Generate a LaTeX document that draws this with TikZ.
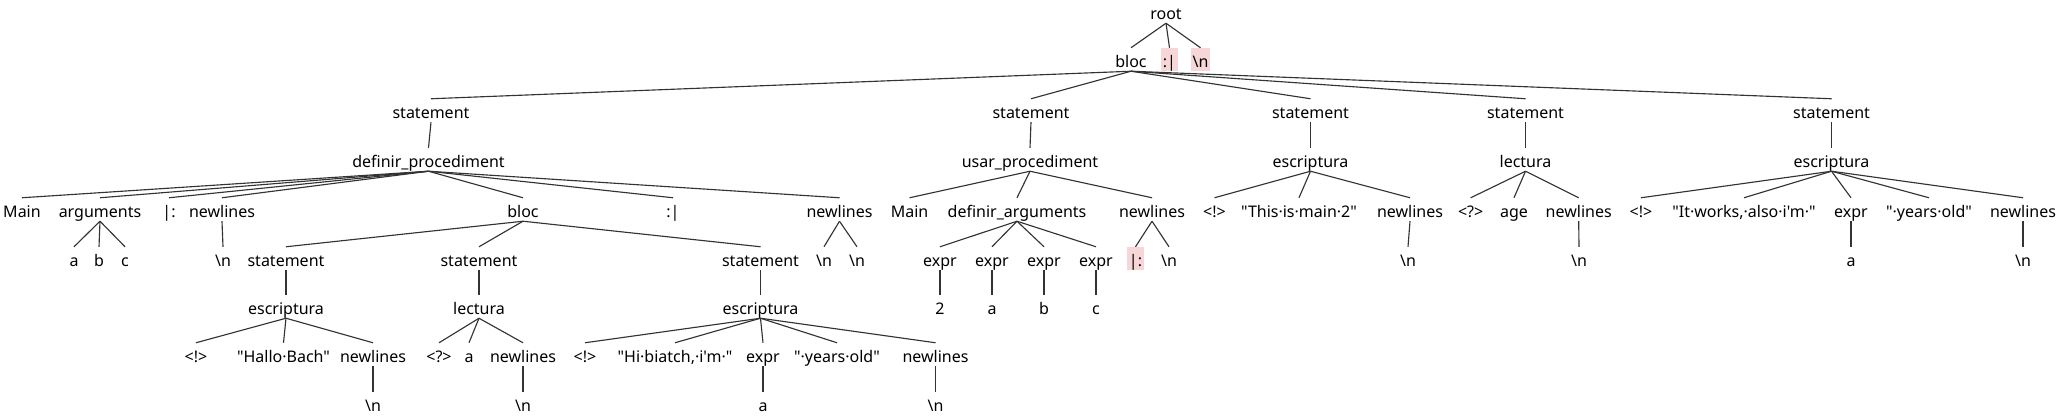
\documentclass[tikz,border=0pt]{standalone}
\usepackage{fontspec}
\newfontfamily\lbl{Noto Sans}
\definecolor{hlpink}{RGB}{246,214,214}
\tikzset{
  tn/.style={inner sep=0pt, text height=14.6pt, text depth=2.6pt, anchor=base,
    font=\lbl\fontsize{12pt}{14pt}\selectfont},
  hl/.style={tn, fill=hlpink, inner xsep=1.5pt},
  conn/.style={draw=black!80, line width=0.85pt}
}
\begin{document}
\begin{tikzpicture}[x=0.75pt,y=-0.75pt]
\useasboundingbox (0,0) rectangle (2060,416);
% level 0
\node[tn] (root) at (1166,19.5) {root};
% level 1
\node[tn] (bloc0) at (1131,67.5) {bloc};
\node[hl] (c0) at (1169.5,67.5) {:|};
\node[hl] (n0) at (1200.5,67.5) {\textbackslash n};
% level 2
\node[tn] (s1) at (431,118.5) {statement};
\node[tn] (s2) at (1031,118.5) {statement};
\node[tn] (s3) at (1310.5,118.5) {statement};
\node[tn] (s4) at (1525.5,118.5) {statement};
\node[tn] (s5) at (1831.5,118.5) {statement};
% level 3
\node[tn] (defp) at (428.5,167.5) {definir\_procediment};
\node[tn] (usar) at (1030,167.5) {usar\_procediment};
\node[tn] (esc3) at (1310.5,167.5) {escriptura};
\node[tn] (lec4) at (1525.5,167.5) {lectura};
\node[tn] (esc5) at (1831.5,167.5) {escriptura};
% level 4
\node[tn] (main1) at (22,217.5) {Main};
\node[tn] (args) at (100,217.5) {arguments};
\node[tn] (bar1) at (169,217.5) {|:};
\node[tn] (nls1) at (222,217.5) {newlines};
\node[tn] (bloc1) at (523,217.5) {bloc};
\node[tn] (col1) at (673,217.5) {:|};
\node[tn] (nls2) at (839.5,217.5) {newlines};
\node[tn] (main2) at (909.6,217.5) {Main};
\node[tn] (dargs) at (1017,217.5) {definir\_arguments};
\node[tn] (nls3) at (1152,217.5) {newlines};
\node[tn] (lt3) at (1214.5,217.5) {<!>};
\node[tn] (str3) at (1299,217.5) {"This·is·main·2"};
\node[tn] (nls4) at (1410,217.5) {newlines};
\node[tn] (q4) at (1470.7,217.5) {<?>};
\node[tn] (age) at (1514,217.5) {age};
\node[tn] (nls5) at (1578.7,217.5) {newlines};
\node[tn] (lt5) at (1641,217.5) {<!>};
\node[tn] (str5) at (1744,217.5) {"It·works,·also·i'm·"};
\node[tn] (expr5) at (1851,217.5) {expr};
\node[tn] (yrs5) at (1929,217.5) {"·years·old"};
\node[tn] (nls6) at (2023,217.5) {newlines};
% level 5
\node[tn] (a1) at (74,266.5) {a};
\node[tn] (b1) at (99,266.5) {b};
\node[tn] (c1) at (125,266.5) {c};
\node[tn] (nl1) at (223,266.5) {\textbackslash n};
\node[tn] (s6) at (286,266.5) {statement};
\node[tn] (s7) at (479,266.5) {statement};
\node[tn] (s8) at (760.5,266.5) {statement};
\node[tn] (nl2a) at (824,266.5) {\textbackslash n};
\node[tn] (nl2b) at (857,266.5) {\textbackslash n};
\node[tn] (ex1) at (940,266.5) {expr};
\node[tn] (ex2) at (992,266.5) {expr};
\node[tn] (ex3) at (1044,266.5) {expr};
\node[tn] (ex4) at (1096,266.5) {expr};
\node[hl] (bar3) at (1135.5,266.5) {|:};
\node[tn] (nl3) at (1169,266.5) {\textbackslash n};
\node[tn] (nl4) at (1408,266.5) {\textbackslash n};
\node[tn] (nl5) at (1579,266.5) {\textbackslash n};
\node[tn] (a5) at (1851,266.5) {a};
\node[tn] (nl6) at (2023,266.5) {\textbackslash n};
% level 6
\node[tn] (esc6) at (286,314.5) {escriptura};
\node[tn] (lec7) at (479,314.5) {lectura};
\node[tn] (esc8) at (760.5,314.5) {escriptura};
\node[tn] (v2) at (940,314.5) {2};
\node[tn] (va) at (992,314.5) {a};
\node[tn] (vb) at (1044,314.5) {b};
\node[tn] (vc) at (1096,314.5) {c};
% level 7
\node[tn] (lt6) at (196,362.5) {<!>};
\node[tn] (str6) at (283.5,362.5) {"Hallo·Bach"};
\node[tn] (nls6b) at (373,362.5) {newlines};
\node[tn] (q7) at (439,362.5) {<?>};
\node[tn] (a7) at (469,362.5) {a};
\node[tn] (nls7) at (523,362.5) {newlines};
\node[tn] (lt8) at (585,362.5) {<!>};
\node[tn] (str8) at (675,362.5) {"Hi·biatch,·i'm·"};
\node[tn] (expr8) at (763,362.5) {expr};
\node[tn] (yrs8) at (837,362.5) {"·years·old"};
\node[tn] (nls8) at (935.5,362.5) {newlines};
% level 8
\node[tn] (nl6b) at (373,411.5) {\textbackslash n};
\node[tn] (nl7) at (523,411.5) {\textbackslash n};
\node[tn] (a8) at (763,411.5) {a};
\node[tn] (nl8) at (935.5,411.5) {\textbackslash n};
% connectors
\foreach \p/\c in {root/bloc0, root/c0, root/n0,
  bloc0/s1, bloc0/s2, bloc0/s3, bloc0/s4, bloc0/s5,
  s1/defp, s2/usar, s3/esc3, s4/lec4, s5/esc5,
  defp/main1, defp/args, defp/bar1, defp/nls1, defp/bloc1, defp/col1, defp/nls2,
  usar/main2, usar/dargs, usar/nls3,
  esc3/lt3, esc3/str3, esc3/nls4,
  lec4/q4, lec4/age, lec4/nls5,
  esc5/lt5, esc5/str5, esc5/expr5, esc5/yrs5, esc5/nls6,
  args/a1, args/b1, args/c1, nls1/nl1,
  bloc1/s6, bloc1/s7, bloc1/s8, nls2/nl2a, nls2/nl2b,
  dargs/ex1, dargs/ex2, dargs/ex3, dargs/ex4,
  nls3/bar3, nls3/nl3, nls4/nl4, nls5/nl5, expr5/a5, nls6/nl6,
  s6/esc6, s7/lec7, s8/esc8, ex1/v2, ex2/va, ex3/vb, ex4/vc,
  esc6/lt6, esc6/str6, esc6/nls6b,
  lec7/q7, lec7/a7, lec7/nls7,
  esc8/lt8, esc8/str8, esc8/expr8, esc8/yrs8, esc8/nls8,
  nls6b/nl6b, nls7/nl7, expr8/a8, nls8/nl8}
  \draw[conn] (\p.south) -- (\c.north);
\end{tikzpicture}
\end{document}
